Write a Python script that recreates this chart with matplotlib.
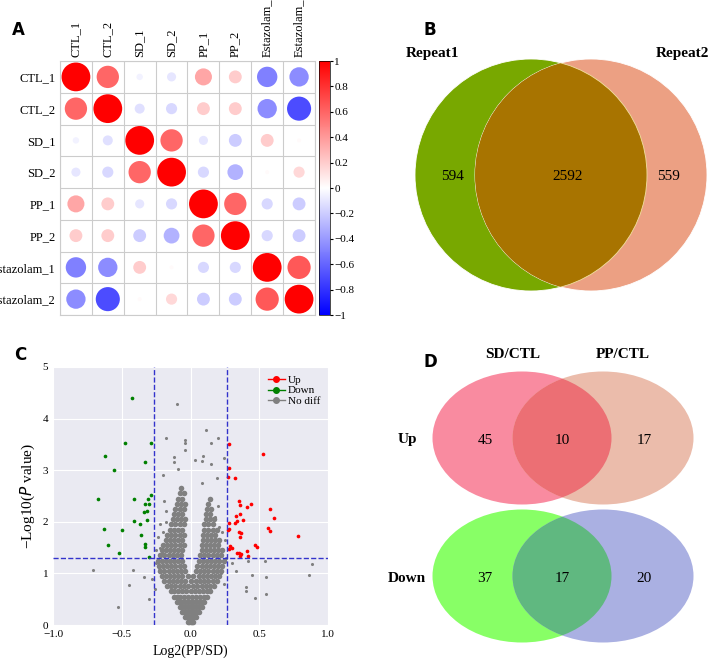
import matplotlib
matplotlib.use("Agg")
import matplotlib.pyplot as plt
import numpy as np
from matplotlib.patches import Circle, Ellipse
from matplotlib.lines import Line2D

plt.rcParams['font.family'] = ['Liberation Serif', 'DejaVu Serif']

# ---------------- data ----------------
samples = ["CTL_1", "CTL_2", "SD_1", "SD_2", "PP_1", "PP_2", "Estazolam_1", "Estazolam_2"]
corr = [
    [1.00, 0.60, -0.05, -0.10, 0.35, 0.20, -0.50, -0.45],
    [0.60, 1.00, -0.12, -0.15, 0.20, 0.20, -0.45, -0.70],
    [-0.05, -0.12, 1.00, 0.60, -0.10, -0.20, 0.20, 0.02],
    [-0.10, -0.15, 0.60, 1.00, -0.15, -0.30, 0.02, 0.15],
    [0.35, 0.20, -0.10, -0.15, 1.00, 0.60, -0.15, -0.20],
    [0.20, 0.20, -0.20, -0.30, 0.60, 1.00, -0.15, -0.20],
    [-0.50, -0.45, 0.20, 0.02, -0.15, -0.15, 1.00, 0.65],
    [-0.45, -0.70, 0.02, 0.15, -0.20, -0.20, 0.65, 1.00],
]
cbar_ticks = [1, 0.8, 0.6, 0.4, 0.2, 0, -0.2, -0.4, -0.6, -0.8, -1]

venn_b_names = ["Repeat1", "Repeat2"]
venn_b_counts = [594, 2592, 559]

venn_d_sets = ["SD/CTL", "PP/CTL"]
venn_d_rows = ["Up", "Down"]
venn_d_counts = [[45, 10, 17], [37, 17, 20]]

up_x = [0.28, 0.53, 0.28, 0.27, 0.32, 0.35, 0.36, 0.41, 0.44, 0.58, 0.61, 0.36, 0.33, 0.38,
        0.28, 0.32, 0.34, 0.27, 0.28, 0.35, 0.37, 0.56, 0.58, 0.78, 0.36, 0.29, 0.30, 0.28,
        0.47, 0.48, 0.34, 0.35, 0.37, 0.41, 0.42, 0.36]
up_y = [3.50, 3.31, 3.05, 2.87, 2.85, 2.40, 2.33, 2.28, 2.35, 2.25, 2.07, 2.15, 2.11, 2.03,
        1.98, 1.97, 2.01, 1.85, 1.87, 1.81, 1.79, 1.88, 1.83, 1.72, 1.70, 1.54, 1.50, 1.48,
        1.56, 1.51, 1.40, 1.39, 1.37, 1.44, 1.34, 1.34]
down_x = [-0.425, -0.48, -0.29, -0.62, -0.56, -0.33, -0.67, -0.41, -0.29, -0.31, -0.33, -0.30,
          -0.32, -0.34, -0.41, -0.32, -0.37, -0.63, -0.50, -0.36, -0.33, -0.33, -0.60, -0.52, -0.30]
down_y = [4.40, 3.53, 3.53, 3.27, 3.00, 3.16, 2.45, 2.45, 2.52, 2.45, 2.34, 2.35,
          2.20, 2.19, 2.01, 2.04, 1.95, 1.86, 1.85, 1.75, 1.57, 1.52, 1.56, 1.39, 1.31]
# scattered grey outliers
nodiff_x = [-0.71, -0.53, -0.45, -0.42, -0.34, -0.10, 0.11, -0.18, 0.20, -0.04, -0.04, -0.04,
            0.15, 0.24, -0.12, 0.09, 0.03, 0.08, -0.12, 0.15, -0.09, 0.19, 0.08, -0.20,
            0.86, 0.88, 0.55, 0.47, 0.55, 0.54, 0.45, 0.40, 0.40, 0.42, 0.33, 0.30,
            -0.30, -0.28, -0.25, -0.22, -0.20, -0.18, -0.26, -0.23, -0.21, 0.22, 0.24, 0.26, 0.21,
            -0.24, 0.23, -0.18, 0.18, -0.25, 0.25, -0.22, 0.21, -0.19, 0.20]
nodiff_y = [1.07, 0.35, 0.77, 1.06, 0.93, 4.28, 3.78, 3.62, 3.62, 3.58, 3.52, 3.39,
            3.53, 3.23, 3.25, 3.27, 3.20, 3.18, 3.15, 3.12, 3.02, 2.85, 2.75, 2.90,
            0.97, 1.19, 0.60, 0.52, 0.93, 1.24, 0.97, 0.74, 0.65, 1.25, 1.05, 1.20,
            0.50, 0.90, 1.20, 1.50, 1.80, 2.00, 0.70, 1.10, 1.40, 1.00, 0.80, 1.30, 1.60,
            1.70, 1.80, 2.20, 2.10, 1.45, 1.65, 1.95, 1.90, 2.40, 2.30]
# dense V-shaped core of the cloud, read as rows of points (x positions per y level)
core_levels = [0.05, 0.15, 0.25, 0.35, 0.45, 0.55, 0.65, 0.75, 0.85, 0.95, 1.05, 1.15, 1.25,
               1.35, 1.45, 1.55, 1.65, 1.75, 1.85, 1.95, 2.05, 2.15, 2.25, 2.35, 2.45, 2.55, 2.65]
core_xs = [
    [-0.02, -0.01, 0.0, 0.01, 0.02],
    [-0.04, -0.03, -0.02, -0.01, 0.0, 0.01, 0.02, 0.03, 0.04],
    [-0.06, -0.05, -0.03, -0.02, 0.0, 0.02, 0.03, 0.05, 0.06],
    [-0.08, -0.06, -0.04, -0.02, 0.0, 0.02, 0.04, 0.06, 0.08],
    [-0.10, -0.08, -0.06, -0.04, -0.02, 0.0, 0.02, 0.04, 0.06, 0.08, 0.10],
    [-0.12, -0.10, -0.08, -0.05, -0.02, 0.01, 0.04, 0.07, 0.10, 0.12],
    [-0.14, -0.12, -0.09, -0.06, -0.03, 0.0, 0.03, 0.06, 0.09, 0.12, 0.14],
    [-0.17, -0.14, -0.11, -0.08, -0.05, -0.02, 0.02, 0.05, 0.08, 0.11, 0.14, 0.17],
    [-0.19, -0.16, -0.13, -0.10, -0.07, -0.04, 0.0, 0.04, 0.07, 0.10, 0.13, 0.16, 0.19],
    [-0.21, -0.18, -0.15, -0.12, -0.09, -0.06, -0.02, 0.02, 0.06, 0.09, 0.12, 0.15, 0.18, 0.21],
    [-0.22, -0.19, -0.16, -0.13, -0.10, -0.07, -0.04, 0.04, 0.07, 0.10, 0.13, 0.16, 0.19, 0.22],
    [-0.23, -0.20, -0.17, -0.14, -0.11, -0.08, -0.05, 0.05, 0.08, 0.11, 0.14, 0.17, 0.20, 0.23],
    [-0.24, -0.21, -0.18, -0.15, -0.12, -0.09, -0.06, 0.06, 0.09, 0.12, 0.15, 0.18, 0.21, 0.24],
    [-0.22, -0.19, -0.16, -0.13, -0.10, -0.07, 0.07, 0.10, 0.13, 0.16, 0.19, 0.22],
    [-0.21, -0.18, -0.15, -0.12, -0.09, -0.06, 0.08, 0.11, 0.14, 0.17, 0.20, 0.23],
    [-0.20, -0.17, -0.14, -0.11, -0.08, -0.05, 0.08, 0.11, 0.14, 0.17, 0.20],
    [-0.18, -0.15, -0.12, -0.09, -0.06, 0.09, 0.12, 0.15, 0.18, 0.21],
    [-0.17, -0.14, -0.11, -0.08, -0.05, 0.09, 0.12, 0.15, 0.18],
    [-0.15, -0.12, -0.09, -0.06, 0.10, 0.13, 0.16, 0.19],
    [-0.14, -0.11, -0.08, -0.05, 0.10, 0.13, 0.16],
    [-0.13, -0.10, -0.07, -0.04, 0.11, 0.14, 0.17],
    [-0.12, -0.09, -0.06, 0.11, 0.14],
    [-0.11, -0.08, -0.05, 0.12, 0.15],
    [-0.10, -0.07, -0.04, 0.13],
    [-0.09, -0.06, 0.14],
    [-0.08, -0.05],
    [-0.07],
]

fig = plt.figure(figsize=(7.09, 6.64), dpi=100)

# ---------------- Panel A ----------------
axA = fig.add_axes([0.0846, 0.5256, 0.3597, 0.3825])
n = len(samples)
cmap = plt.get_cmap('bwr')
C = np.array(corr)
xs, ys, vs = [], [], []
for i in range(n):
    for j in range(n):
        xs.append(j); ys.append(i); vs.append(C[i, j])
vs = np.array(vs)
axA.scatter(xs, ys, s=430 * np.abs(vs), c=vs, cmap=cmap, vmin=-1, vmax=1, edgecolors='none')
axA.set_xlim(-0.5, n - 0.5)
axA.set_ylim(n - 0.5, -0.5)
for k in range(n + 1):
    axA.axhline(k - 0.5, color='#cccccc', lw=0.8)
    axA.axvline(k - 0.5, color='#cccccc', lw=0.8)
axA.set_xticks(range(n))
axA.set_xticklabels(samples, rotation=90, fontsize=9)
axA.xaxis.tick_top()
axA.set_yticks(range(n))
axA.set_yticklabels(samples, fontsize=9)
axA.tick_params(length=0, pad=3)
for s in axA.spines.values():
    s.set_color('#cccccc')

cax = fig.add_axes([0.45, 0.5256, 0.0155, 0.3825])
sm = matplotlib.cm.ScalarMappable(cmap=cmap, norm=matplotlib.colors.Normalize(-1, 1))
cb = fig.colorbar(sm, cax=cax)
cb.set_ticks(cbar_ticks)
cb.set_ticklabels([("%g" % t).replace('-', '\u2212') for t in cbar_ticks])
cax.tick_params(labelsize=8, length=2, pad=1)
cb.outline.set_linewidth(0.5)

# ---------------- Panel C ----------------
axC = fig.add_axes([0.0748, 0.0587, 0.388, 0.3886])
axC.set_facecolor('#eaeaf2')
axC.grid(True, color='white', lw=0.8)
axC.set_axisbelow(True)
for s in axC.spines.values():
    s.set_visible(False)
cx, cy = [], []
for yl, row in zip(core_levels, core_xs):
    for x in row:
        cx.append(x); cy.append(yl)
axC.scatter(cx, cy, s=16, color='grey', zorder=2, linewidths=0)
axC.scatter(nodiff_x, nodiff_y, s=5, color='grey', zorder=2, linewidths=0)
axC.scatter(down_x, down_y, s=7, color='green', zorder=3, linewidths=0)
axC.scatter(up_x, up_y, s=7, color='red', zorder=3, linewidths=0)
axC.axvline(-0.265, color='#3333cc', ls='--', lw=1, zorder=4)
axC.axvline(0.265, color='#3333cc', ls='--', lw=1, zorder=4)
axC.axhline(1.3, color='#3333cc', ls='--', lw=1, zorder=4)
axC.set_xlim(-1, 1)
axC.set_ylim(0, 5)
axC.set_xticks([-1, -0.5, 0, 0.5, 1])
axC.set_xticklabels(['\u22121.0', '\u22120.5', '0.0', '0.5', '1.0'])
axC.set_yticks([0, 1, 2, 3, 4, 5])
axC.tick_params(labelsize=8, length=0)
axC.set_xlabel('Log2(PP/SD)', fontsize=10)
axC.set_ylabel('\u2212Log10($\\it{P}$ value)', fontsize=11)
handles = [Line2D([0], [0], color=c, marker='o', ms=4, lw=1) for c in ['red', 'green', 'grey']]
axC.legend(handles, ['Up', 'Down', 'No diff'], loc='upper right', fontsize=8, frameon=False,
           handlelength=1.5, handletextpad=0.3, labelspacing=0.1, borderaxespad=0.3)

# ---------------- Venn panels (pixel overlay) ----------------
ov = fig.add_axes([0, 0, 1, 1])
ov.set_xlim(0, 709)
ov.set_ylim(664, 0)
ov.axis('off')
ov.patch.set_alpha(0)

# B
cL = Circle((531, 175), 116, facecolor='#78a800', edgecolor='white', lw=0.6)
cR = Circle((591, 175), 116, facecolor='#eca083', edgecolor='white', lw=0.6)
ov.add_patch(cL); ov.add_patch(cR)
cI = Circle((531, 175), 116, facecolor='#a87400', edgecolor='#f0e0a0', lw=0.6)
ov.add_patch(cI); cI.set_clip_path(cR)
ov.text(433, 53, venn_b_names[0], fontsize=11, fontweight='bold', ha='center', va='center')
ov.text(682, 53, venn_b_names[1], fontsize=11, fontweight='bold', ha='center', va='center')
for x, v in zip([452, 568, 668], venn_b_counts):
    ov.text(x, 177, str(v), fontsize=11, ha='center', va='center')

# D
rows_y = [438, 576]
cols = [('#f98ba0', '#ebbcab', '#ec6f74'), ('#88ff66', '#aab0e2', '#60b880')]
for r, (yc, (c1, c2, c3)) in enumerate(zip(rows_y, cols)):
    e1 = Ellipse((522, yc), 179, 133, facecolor=c1, edgecolor='none')
    e2 = Ellipse((603, yc), 181, 133, facecolor=c2, edgecolor='none')
    ov.add_patch(e1); ov.add_patch(e2)
    e3 = Ellipse((522, yc), 179, 133, facecolor=c3, edgecolor='none')
    ov.add_patch(e3); e3.set_clip_path(e2)
    ov.text(407, yc + 2, venn_d_rows[r], fontsize=11, fontweight='bold', ha='center', va='center')
    for x, v in zip([485, 562, 644], venn_d_counts[r]):
        ov.text(x, yc + 2, str(v), fontsize=11, ha='center', va='center')
ov.text(513, 355, venn_d_sets[0], fontsize=11, fontweight='bold', ha='center', va='center')
ov.text(623, 355, venn_d_sets[1], fontsize=11, fontweight='bold', ha='center', va='center')

# panel letters
for lab, x, y in [('A', 18, 30), ('B', 430, 30), ('C', 20, 355), ('D', 430, 362)]:
    ov.text(x, y, lab, fontsize=12, fontweight='bold', family='DejaVu Sans', ha='center', va='center')

fig.savefig('out.png', dpi=100)
